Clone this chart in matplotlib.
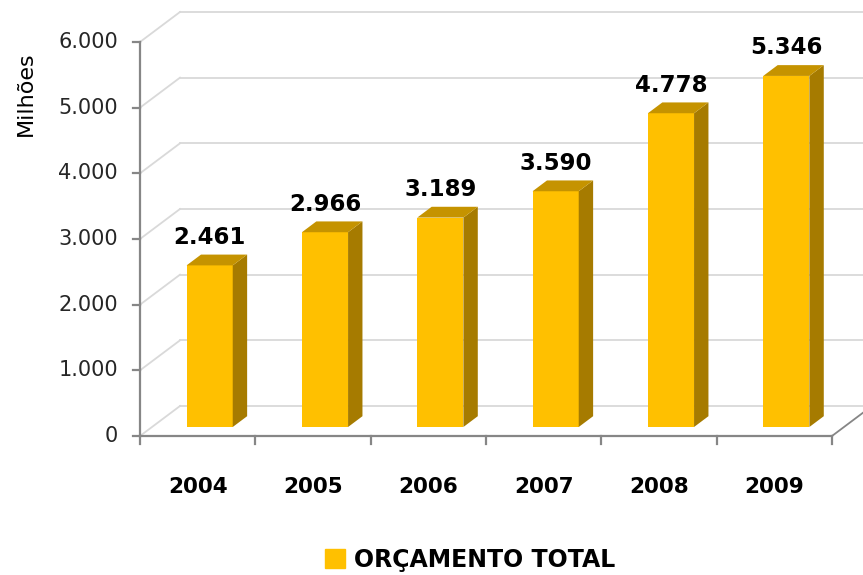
import numpy as np
import matplotlib.pyplot as plt
from matplotlib.patches import Patch

# data
years = ['2004', '2005', '2006', '2007', '2008', '2009']
values = [2461, 2966, 3189, 3590, 4778, 5346]
value_labels = ['2.461', '2.966', '3.189', '3.590', '4.778', '5.346']
yticks = [0, 1000, 2000, 3000, 4000, 5000, 6000]
ytick_labels = ['0', '1.000', '2.000', '3.000', '4.000', '5.000', '6.000']
series_name = 'ORÇAMENTO TOTAL'

front_col = '#FFC000'
side_col = '#A67B00'
top_col = '#C59300'
grid_col = '#D9D9D9'
axis_col = '#868686'

# pixel scale of the plot (863x575 canvas)
px_x = 115.33     # px per category
px_y = 0.06567    # px per unit
DX = 40 / px_x    # depth of the floor in category units
DY = 30 / px_y    # depth of the floor in value units

fig = plt.figure(figsize=(8.63, 5.75), dpi=100)
ax = fig.add_axes([0, 0, 1, 1])
xmin, xmax = -0.5 - 140 / px_x, -0.5 + 723 / px_x
ax.set_xlim(xmin, xmax)
ax.set_ylim((436 - 575) / px_y, 436 / px_y)
ax.axis('off')

x = np.arange(len(years))
ymax = yticks[-1]

# walls: side wall diagonals + back wall gridlines
for t in yticks:
    ax.plot([-0.5, -0.5 + DX], [t, t + DY], color=grid_col, lw=1.3, zorder=1)
    ax.plot([-0.5 + DX, xmax + 1], [t + DY, t + DY], color=grid_col, lw=1.3, zorder=1)

# front axes
ax.plot([-0.5, -0.5], [0, ymax], color=axis_col, lw=1.6, zorder=2)
ax.plot([-0.5, len(years) - 0.5], [0, 0], color=axis_col, lw=1.6, zorder=2)
ax.plot([len(years) - 0.5, len(years) - 0.5 + DX], [0, DY], color=axis_col, lw=1.3, zorder=2)
for t, lab in zip(yticks, ytick_labels):
    ax.plot([-0.5 - 7 / px_x, -0.5], [t, t], color=axis_col, lw=1.6, zorder=2)
    ax.text(-0.5 - 22 / px_x, t, lab, ha='right', va='center',
            fontsize=15, color='#262626')
for b in np.arange(len(years) + 1) - 0.5:
    ax.plot([b, b], [0, -8 / px_y], color=axis_col, lw=1.6, zorder=2)
for i, yr in zip(x, years):
    ax.text(i, -51 / px_y, yr, ha='center', va='center',
            fontsize=15.5, fontweight='bold', color='black')

ax.text(-0.5 - 114 / px_x, 6000 - 52 / px_y, 'Milhões', rotation=90,
        ha='center', va='center', fontsize=16, fontweight='medium', color='black')

# pseudo-3d bars
f = 0.3    # front face position within the floor depth
d = 0.36   # bar depth
w = 0.4
xc = x + f * DX
ax.bar(xc, values, width=w, bottom=f * DY, color=front_col, zorder=3)
for xi, v, lab in zip(xc, values, value_labels):
    x0, x1 = xi - w / 2, xi + w / 2
    y0, y1 = f * DY, v + f * DY
    ax.fill([x1, x1 + d * DX, x1 + d * DX, x1],
            [y0, y0 + d * DY, y1 + d * DY, y1], color=side_col, lw=0, zorder=3)
    ax.fill([x0, x1, x1 + d * DX, x0 + d * DX],
            [y1, y1, y1 + d * DY, y1 + d * DY], color=top_col, lw=0, zorder=3)
    ax.text(xi, y1 + 28 / px_y, lab, ha='center', va='center',
            fontsize=16.5, fontweight='bold', color='black', zorder=4)

leg = fig.legend(handles=[Patch(color=front_col)], labels=[series_name],
                 loc='center', bbox_to_anchor=(470 / 863, 1 - 560 / 575),
                 frameon=False, handlelength=0.85, handleheight=0.85,
                 handletextpad=0.4, prop={'size': 17, 'weight': 'bold'})

fig.savefig('out.png', dpi=100)
